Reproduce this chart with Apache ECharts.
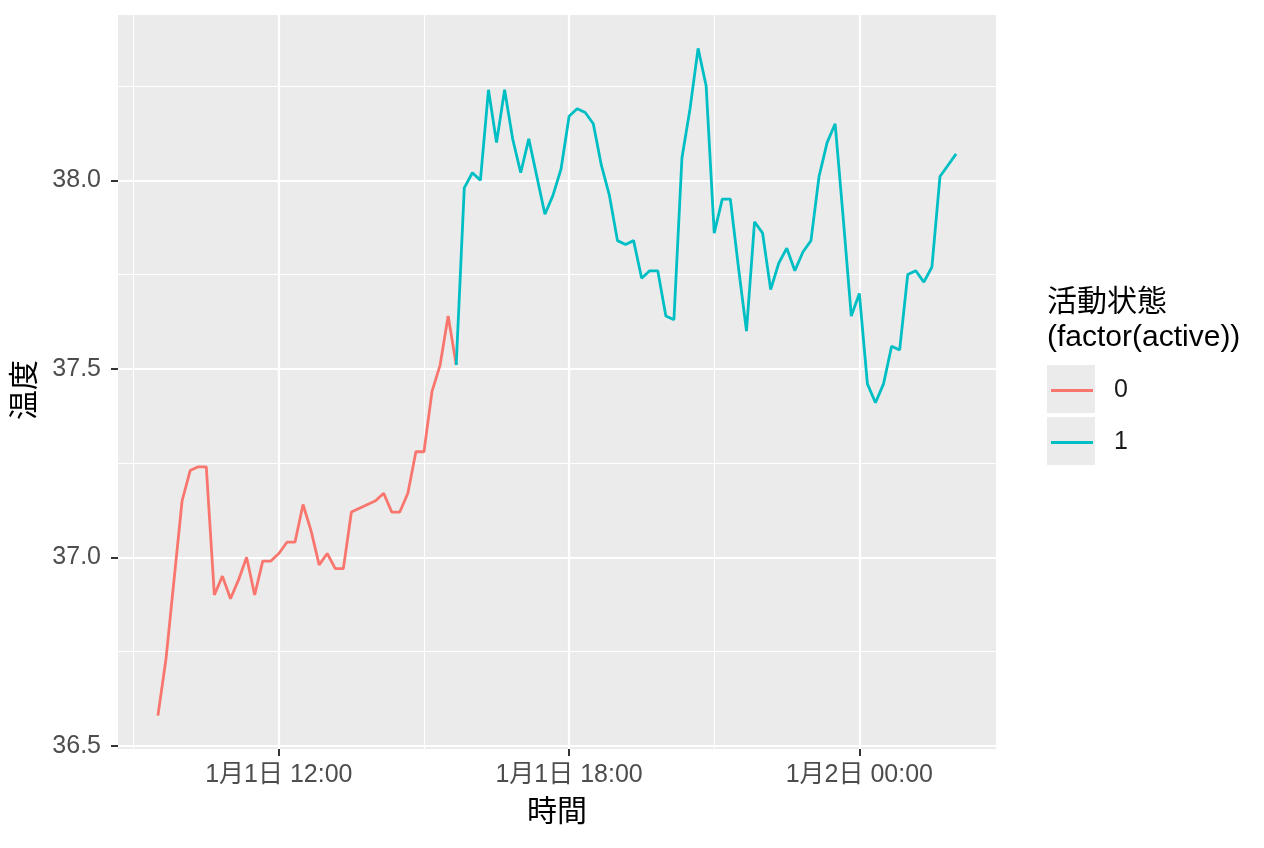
<!DOCTYPE html>
<html>
<head>
<meta charset="utf-8">
<script src="https://cdn.jsdelivr.net/npm/echarts@6/dist/echarts.min.js"></script>
<style>
  html, body { margin: 0; padding: 0; background: #fff; }
  #chart { width: 1264px; height: 848px; }
</style>
</head>
<body>
<div id="chart"></div>
<script>
// 10-minute readings, 1/1 09:30 to 1/2 02:00
const times = [
  '1/1 09:30', '1/1 09:40', '1/1 09:50',
  '1/1 10:00', '1/1 10:10', '1/1 10:20', '1/1 10:30', '1/1 10:40', '1/1 10:50',
  '1/1 11:00', '1/1 11:10', '1/1 11:20', '1/1 11:30', '1/1 11:40', '1/1 11:50',
  '1/1 12:00', '1/1 12:10', '1/1 12:20', '1/1 12:30', '1/1 12:40', '1/1 12:50',
  '1/1 13:00', '1/1 13:10', '1/1 13:20', '1/1 13:30', '1/1 13:40', '1/1 13:50',
  '1/1 14:00', '1/1 14:10', '1/1 14:20', '1/1 14:30', '1/1 14:40', '1/1 14:50',
  '1/1 15:00', '1/1 15:10', '1/1 15:20', '1/1 15:30', '1/1 15:40', '1/1 15:50',
  '1/1 16:00', '1/1 16:10', '1/1 16:20', '1/1 16:30', '1/1 16:40', '1/1 16:50',
  '1/1 17:00', '1/1 17:10', '1/1 17:20', '1/1 17:30', '1/1 17:40', '1/1 17:50',
  '1/1 18:00', '1/1 18:10', '1/1 18:20', '1/1 18:30', '1/1 18:40', '1/1 18:50',
  '1/1 19:00', '1/1 19:10', '1/1 19:20', '1/1 19:30', '1/1 19:40', '1/1 19:50',
  '1/1 20:00', '1/1 20:10', '1/1 20:20', '1/1 20:30', '1/1 20:40', '1/1 20:50',
  '1/1 21:00', '1/1 21:10', '1/1 21:20', '1/1 21:30', '1/1 21:40', '1/1 21:50',
  '1/1 22:00', '1/1 22:10', '1/1 22:20', '1/1 22:30', '1/1 22:40', '1/1 22:50',
  '1/1 23:00', '1/1 23:10', '1/1 23:20', '1/1 23:30', '1/1 23:40', '1/1 23:50',
  '1/2 00:00', '1/2 00:10', '1/2 00:20', '1/2 00:30', '1/2 00:40', '1/2 00:50',
  '1/2 01:00', '1/2 01:10', '1/2 01:20', '1/2 01:30', '1/2 01:40', '1/2 01:50',
  '1/2 02:00'
];
const temps = [
  36.58, 36.73, 36.94,
  37.15, 37.23, 37.24, 37.24, 36.90, 36.95,
  36.89, 36.94, 37.00, 36.90, 36.99, 36.99,
  37.01, 37.04, 37.04, 37.14, 37.07, 36.98,
  37.01, 36.97, 36.97, 37.12, 37.13, 37.14,
  37.15, 37.17, 37.12, 37.12, 37.17, 37.28,
  37.28, 37.44, 37.51, 37.64, 37.51, 37.98,
  38.02, 38.00, 38.24, 38.10, 38.24, 38.11,
  38.02, 38.11, 38.01, 37.91, 37.96, 38.03,
  38.17, 38.19, 38.18, 38.15, 38.04, 37.96,
  37.84, 37.83, 37.84, 37.74, 37.76, 37.76,
  37.64, 37.63, 38.06, 38.19, 38.35, 38.25,
  37.86, 37.95, 37.95, 37.77, 37.60, 37.89,
  37.86, 37.71, 37.78, 37.82, 37.76, 37.81,
  37.84, 38.01, 38.10, 38.15, 37.90, 37.64,
  37.70, 37.46, 37.41, 37.46, 37.56, 37.55,
  37.75, 37.76, 37.73, 37.77, 38.01, 38.04,
  38.07
];
const active = [
  0, 0, 0,
  0, 0, 0, 0, 0, 0,
  0, 0, 0, 0, 0, 0,
  0, 0, 0, 0, 0, 0,
  0, 0, 0, 0, 0, 0,
  0, 0, 0, 0, 0, 0,
  0, 0, 0, 0, 1, 1,
  1, 1, 1, 1, 1, 1,
  1, 1, 1, 1, 1, 1,
  1, 1, 1, 1, 1, 1,
  1, 1, 1, 1, 1, 1,
  1, 1, 1, 1, 1, 1,
  1, 1, 1, 1, 1, 1,
  1, 1, 1, 1, 1, 1,
  1, 1, 1, 1, 1, 1,
  1, 1, 1, 1, 1, 1,
  1, 1, 1, 1, 1, 1,
  1
];
const groups = ['0', '1'];
const groupColors = ['#F8766D', '#00BFC4'];
const yTicks = [36.5, 37.0, 37.5, 38.0];
const xTicks = [12, 18, 24];          // hours since 1/1 00:00
const xTickLabels = ['1月1日 12:00', '1月1日 18:00', '1月2日 00:00'];

const FONT = '"Liberation Sans", "Noto Sans CJK JP", sans-serif';

// '1/2 01:30' -> hours since 1/1 00:00
function toHours(s) {
  const [md, hm] = s.split(' ');
  const day = +md.split('/')[1];
  const [h, m] = hm.split(':').map(Number);
  return (day - 1) * 24 + h + m / 60;
}
const hours = times.map(toHours);

// ggplot colours each segment by its starting point
function groupData(g) {
  const out = [];
  for (let i = 0; i < temps.length; i++) {
    if (active[i] === g || (i > 0 && active[i - 1] === g)) {
      out.push([hours[i], temps[i]]);
    }
  }
  return out;
}

// ggplot default 5% expansion
const xMin = Math.min(...hours), xMax = Math.max(...hours);
const yMin = Math.min(...temps), yMax = Math.max(...temps);
const xPad = (xMax - xMin) * 0.05, yPad = (yMax - yMin) * 0.05;

const chart = echarts.init(document.getElementById('chart'));
chart.setOption({
  animation: false,
  textStyle: { fontFamily: FONT },
  grid: {
    left: 118, right: 268, top: 15, bottom: 99,
    show: true, backgroundColor: '#EBEBEB', borderWidth: 0
  },
  xAxis: {
    type: 'value',
    min: xMin - xPad, max: xMax + xPad,
    minInterval: 6, maxInterval: 6,
    name: '時間', nameLocation: 'middle', nameGap: 49,
    nameTextStyle: { fontSize: 30, color: '#000', fontFamily: FONT },
    axisLine: { show: false },
    axisTick: { show: true, length: 7, lineStyle: { color: '#333', width: 2 }, customValues: xTicks },
    axisLabel: {
      customValues: xTicks, margin: 14, fontSize: 25, color: '#4D4D4D', fontFamily: FONT,
      formatter: v => xTickLabels[xTicks.indexOf(Math.round(v))] || ''
    },
    splitLine: { show: true, lineStyle: { color: '#fff', width: 2.2 } },
    minorTick: { show: false, splitNumber: 2 },
    minorSplitLine: { show: true, lineStyle: { color: '#fff', width: 1.1 } }
  },
  yAxis: {
    type: 'value',
    min: yMin - yPad, max: yMax + yPad,
    minInterval: 0.5, maxInterval: 0.5,
    name: '温度', nameLocation: 'middle', nameGap: 77, nameRotate: 90,
    nameTextStyle: { fontSize: 30, color: '#000', fontFamily: FONT, padding: [0, 16, 0, 0] },
    axisLine: { show: false },
    axisTick: { show: true, length: 7, lineStyle: { color: '#333', width: 2 }, customValues: yTicks },
    axisLabel: {
      customValues: yTicks, margin: 17, fontSize: 25, color: '#4D4D4D', fontFamily: FONT,
      padding: [3, 0, 0, 0],
      formatter: v => v.toFixed(1)
    },
    splitLine: { show: true, lineStyle: { color: '#fff', width: 2.2 } },
    minorTick: { show: false, splitNumber: 2 },
    minorSplitLine: { show: true, lineStyle: { color: '#fff', width: 1.1 } }
  },
  legend: groups.map((g, k) => ({
    data: [g],
    orient: 'vertical',
    left: 1051, top: 377 + k * 52,
    padding: 0,
    itemWidth: 42, itemHeight: 3,
    icon: 'rect',
    selectedMode: false,
    textStyle: { fontSize: 25, color: '#1A1A1A', fontFamily: FONT, lineHeight: 25, padding: [2, 0, 0, 16] }
  })),
  graphic: [
    {
      type: 'text', left: 1047, top: 285, z: 5,
      style: { text: '活動状態\n(factor(active))', font: '30px ' + FONT, fill: '#000', lineHeight: 35 }
    },
    { type: 'rect', left: 1047, top: 365, z: 0, shape: { width: 48, height: 48 }, style: { fill: '#EBEBEB' } },
    { type: 'rect', left: 1047, top: 417, z: 0, shape: { width: 48, height: 48 }, style: { fill: '#EBEBEB' } }
  ],
  series: groups.map((g, k) => ({
    name: g,
    type: 'line',
    data: groupData(+g),
    showSymbol: false,
    color: groupColors[k],
    lineStyle: { width: 2.8, color: groupColors[k] },
    z: 3
  }))
});
</script>
</body>
</html>
